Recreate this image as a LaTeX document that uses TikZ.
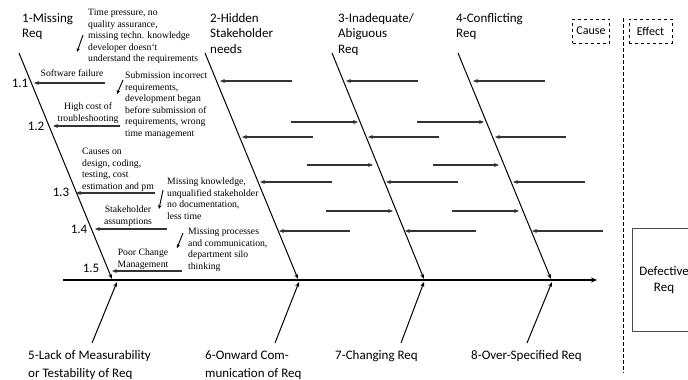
\documentclass[tikz,border=0pt]{standalone}
\usepackage{fontspec}
\setmainfont{Liberation Serif}
\newfontfamily\carlito{Carlito}
\usetikzlibrary{arrows.meta,positioning}

\begin{document}
\begin{tikzpicture}[x=1pt,y=-1pt,
  bone/.style={line width=1pt,-{Stealth[length=5pt,width=4pt]}},
  twig/.style={line width=1.2pt,draw=black!80,-{Stealth[length=5pt,width=4pt]}},
  hint/.style={line width=0.9pt,-{Stealth[length=4pt,width=3.5pt]}},
  cat/.style={font=\carlito\fontsize{13}{15.5}\selectfont,align=left,anchor=north west,inner sep=0pt},
  num/.style={font=\carlito\fontsize{13}{15}\selectfont,inner sep=0pt},
  note/.style={font=\fontsize{9.7}{11.5}\selectfont,inner sep=0pt},
  dashbox/.style={draw,dashed,line width=0.6pt,font=\carlito\fontsize{12}{14}\selectfont,minimum height=24pt,inner sep=0pt}]
  \useasboundingbox (0,0) rectangle (688,380);
  \clip (0,0) rectangle (688,380);

  % spine and bones
  \coordinate (tail) at (63,280);
  \coordinate (head) at (597,280);
  \draw[line width=1.3pt,-{Stealth[length=6pt,width=5pt]}] (tail) -- (head);
  \foreach \a/\b in {19/112,205/298,332/424,458/551}
    \draw[bone] (\a,53) -- (\b,279);
  \foreach \a/\b in {92/117,275/299,401/424,527/552}
    \draw[bone] (\a,343) -- (\b,282);

  % categories
  \node[cat] (missing) at (22,13) {1-Missing\\Req};
  \node[cat] (hidden) at (210,13) {2-Hidden\\Stakeholder\\needs};
  \node[cat] (inadequate) at (338,13) {3-Inadequate/\\Abiguous\\Req};
  \node[cat] (conflicting) at (456,13) {4-Conflicting\\Req};
  \node[cat,font=\carlito\fontsize{13}{18}\selectfont] (lack) at (28,350) {5-Lack of Measurability\\or Testability of Req};
  \node[cat,font=\carlito\fontsize{13}{18}\selectfont] (onward) at (205,350) {6-Onward Com-\\munication of Req};
  \node[cat] (changing) at (335,350) {7-Changing Req};
  \node[cat] (overspec) at (471,350) {8-Over-Specified Req};

  % sub causes of 1
  \node[num] (n11) at (20,83) {1.1};
  \node[num] (n12) at (36,126) {1.2};
  \node[num] (n13) at (61,192) {1.3};
  \node[num] (n14) at (79,229) {1.4};
  \node[num] (n15) at (91,268) {1.5};
  \draw[twig] (105,83) -- (34,83);
  \draw[twig] (120,126) -- (53,126);
  \draw[twig] (155,193) -- (76,193);
  \draw[twig] (167,229) -- (95,229);
  \draw[twig] (182,271) -- (112,271);
  \node[note] (fail) at (72,73) {Software failure};
  \node[note,align=center] (cost) at (88,113) {High cost of\\troubleshooting};
  \node[note,align=left,anchor=north west] (design) at (82,148) {Causes on\\design, coding,\\testing, cost\\estimation and pm};
  \node[note,align=center] (assume) at (128,216) {Stakeholder\\assumptions};
  \node[note,align=center] (change) at (143,259) {Poor Change\\Management};

  % reasons
  \node[note,align=left,anchor=north west] (time) at (88,9) {Time pressure, no\\quality assurance,\\missing techn. knowledge\\developer doesn‘t\\understand the requirements};
  \node[note,align=left,anchor=north west] (submit) at (125,72) {Submission incorrect\\requirements,\\development began\\before submission of\\requirements, wrong\\time management};
  \node[note,align=left,anchor=north west] (know) at (167,178) {Missing knowledge,\\unqualified stakeholder\\no documentation,\\less time};
  \node[note,align=left,anchor=north west] (silo) at (188,228) {Missing processes\\and communication,\\department silo\\thinking};
  \draw[hint] (83,35) -- (77,52);
  \draw[hint] (123,80) -- (117,94);
  \draw[hint] (163,190) -- (159,209);
  \draw[hint] (183,233) -- (177,248);

  % empty causes on 2-4
  \foreach \s in {0,126,253} {
    \draw[twig] (292+\s,81) -- (220+\s,81);
    \draw[twig] (313+\s,137) -- (242+\s,137);
    \draw[twig] (332+\s,182) -- (260+\s,182);
    \draw[twig] (350+\s,231) -- (279+\s,231);
  }
  \foreach \s in {0,126} {
    \draw[twig] (291+\s,122) -- (358+\s,122);
    \draw[twig] (307+\s,165) -- (373+\s,165);
    \draw[twig] (326+\s,211) -- (393+\s,211);
  }

  % cause / effect
  \node[dashbox,minimum width=37pt] (cause) at (591,31) {Cause};
  \node[dashbox,minimum width=43pt] (effect) at (650.5,31) {Effect};
  \draw[line width=1pt,dash pattern=on 4pt off 2pt] (623,18) -- (623,373);
  \node[draw=black!70,line width=0.6pt,minimum width=64pt,minimum height=103pt,align=center,
        font=\carlito\fontsize{13}{16}\selectfont] (defect) at (664,280) {Defective\\Req};
\end{tikzpicture}
\end{document}
